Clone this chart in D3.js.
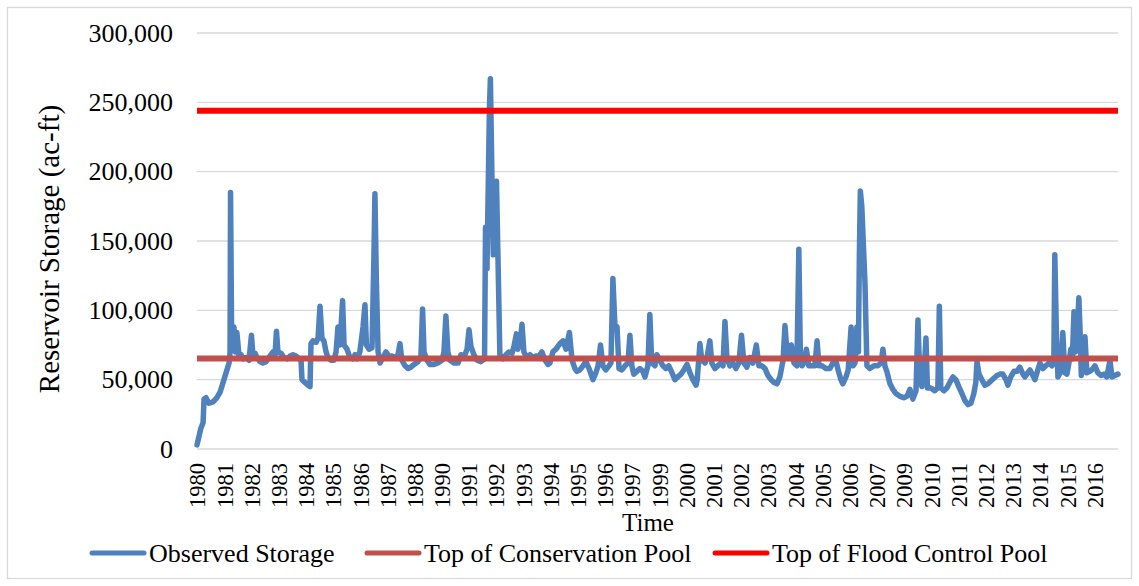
<!DOCTYPE html>
<html>
<head>
<meta charset="utf-8">
<script src="https://cdn.jsdelivr.net/npm/d3@7"></script>
<style>
  body { margin: 0; background: #fff; }
  text { font-family: "Liberation Serif", "Times New Roman", serif; fill: #000; }
</style>
</head>
<body>
<div id="chart"></div>
<script>
// Observed storage, [decimal year, ac-ft]
const observedStorage = [
  [1980.00, 3000], [1980.08, 9000], [1980.16, 15000], [1980.25, 19000], [1980.29, 36000], [1980.37, 37000],
  [1980.49, 33000], [1980.66, 34000], [1980.82, 37000], [1980.95, 41000], [1981.11, 50000], [1981.23, 57000],
  [1981.32, 62000], [1981.36, 70000], [1981.38, 185000], [1981.42, 90000], [1981.46, 72000], [1981.52, 88000],
  [1981.58, 70000], [1981.64, 84000], [1981.73, 67000], [1981.81, 68000], [1981.89, 65000], [1982.02, 66000],
  [1982.14, 64000], [1982.24, 82000], [1982.30, 68000], [1982.39, 69000], [1982.47, 66000], [1982.59, 63000],
  [1982.71, 62000], [1982.84, 63000], [1983.00, 67000], [1983.13, 70000], [1983.21, 68000], [1983.27, 85000],
  [1983.33, 70000], [1983.46, 69000], [1983.58, 66000], [1983.70, 65000], [1983.83, 67000], [1983.95, 68000],
  [1984.07, 67000], [1984.20, 65000], [1984.28, 64000], [1984.32, 50000], [1984.44, 48000], [1984.57, 46000],
  [1984.65, 45000], [1984.69, 76000], [1984.77, 78000], [1984.90, 77000], [1984.98, 80000], [1985.06, 103000],
  [1985.14, 80000], [1985.22, 78000], [1985.31, 70000], [1985.39, 66000], [1985.51, 64000], [1985.63, 64000],
  [1985.72, 70000], [1985.80, 88000], [1985.88, 75000], [1985.99, 107000], [1986.05, 75000], [1986.17, 72000],
  [1986.29, 66000], [1986.42, 65000], [1986.50, 68000], [1986.58, 65000], [1986.70, 70000], [1986.83, 88000],
  [1986.91, 104000], [1986.97, 75000], [1987.08, 72000], [1987.20, 73000], [1987.28, 140000], [1987.32, 184000],
  [1987.38, 120000], [1987.45, 70000], [1987.53, 62000], [1987.65, 66000], [1987.77, 70000], [1987.90, 67000],
  [1988.02, 67000], [1988.14, 66000], [1988.27, 68000], [1988.35, 76000], [1988.43, 64000], [1988.56, 60000],
  [1988.68, 58000], [1988.80, 59000], [1988.93, 61000], [1989.09, 63000], [1989.21, 66000], [1989.28, 101000],
  [1989.34, 70000], [1989.46, 64000], [1989.58, 61000], [1989.75, 61000], [1989.91, 62000], [1990.08, 64000],
  [1990.16, 70000], [1990.24, 96000], [1990.32, 70000], [1990.41, 64000], [1990.57, 62000], [1990.74, 62000],
  [1990.86, 68000], [1990.98, 66000], [1991.11, 72000], [1991.19, 86000], [1991.27, 74000], [1991.39, 68000],
  [1991.52, 64000], [1991.68, 63000], [1991.83, 65000], [1991.87, 160000], [1991.93, 130000], [1992.03, 245000],
  [1992.07, 267000], [1992.13, 200000], [1992.19, 140000], [1992.26, 150000], [1992.32, 193000], [1992.38, 140000],
  [1992.46, 68000], [1992.59, 65000], [1992.71, 68000], [1992.83, 70000], [1992.96, 69000], [1993.04, 74000],
  [1993.14, 83000], [1993.20, 72000], [1993.29, 76000], [1993.37, 90000], [1993.45, 70000], [1993.57, 66000],
  [1993.70, 68000], [1993.82, 66000], [1993.94, 67000], [1994.07, 67000], [1994.19, 70000], [1994.32, 64000],
  [1994.44, 61000], [1994.52, 62000], [1994.64, 70000], [1994.77, 72000], [1994.93, 76000], [1995.06, 78000],
  [1995.18, 72000], [1995.32, 84000], [1995.43, 64000], [1995.55, 58000], [1995.63, 56000], [1995.75, 57000],
  [1995.88, 60000], [1996.00, 63000], [1996.13, 58000], [1996.29, 50000], [1996.41, 55000], [1996.50, 60000],
  [1996.60, 75000], [1996.70, 60000], [1996.82, 57000], [1996.95, 60000], [1997.03, 62000], [1997.11, 123000],
  [1997.19, 90000], [1997.28, 88000], [1997.36, 58000], [1997.48, 57000], [1997.61, 60000], [1997.73, 62000],
  [1997.81, 82000], [1997.89, 60000], [1997.97, 54000], [1998.10, 56000], [1998.22, 58000], [1998.34, 56000],
  [1998.43, 52000], [1998.55, 60000], [1998.63, 97000], [1998.71, 62000], [1998.84, 60000], [1998.92, 68000],
  [1999.04, 64000], [1999.17, 60000], [1999.29, 58000], [1999.41, 60000], [1999.54, 55000], [1999.66, 50000],
  [1999.78, 52000], [1999.91, 54000], [2000.03, 57000], [2000.16, 61000], [2000.28, 55000], [2000.40, 50000],
  [2000.53, 46000], [2000.58, 50000], [2000.69, 76000], [2000.77, 64000], [2000.90, 62000], [2000.98, 66000],
  [2001.10, 78000], [2001.18, 62000], [2001.31, 58000], [2001.43, 60000], [2001.55, 62000], [2001.64, 60000],
  [2001.72, 92000], [2001.80, 66000], [2001.92, 60000], [2002.05, 62000], [2002.17, 58000], [2002.29, 62000],
  [2002.40, 82000], [2002.50, 62000], [2002.62, 59000], [2002.74, 66000], [2002.87, 62000], [2003.01, 75000],
  [2003.12, 60000], [2003.24, 60000], [2003.37, 58000], [2003.49, 53000], [2003.62, 50000], [2003.74, 48000],
  [2003.86, 47000], [2003.98, 52000], [2004.11, 64000], [2004.19, 89000], [2004.27, 70000], [2004.35, 66000],
  [2004.45, 75000], [2004.56, 62000], [2004.68, 60000], [2004.76, 144000], [2004.82, 70000], [2004.89, 60000],
  [2004.97, 62000], [2005.07, 72000], [2005.17, 60000], [2005.30, 60000], [2005.42, 60000], [2005.51, 78000],
  [2005.59, 60000], [2005.71, 60000], [2005.87, 58000], [2006.04, 58000], [2006.16, 62000], [2006.28, 64000],
  [2006.39, 56000], [2006.49, 50000], [2006.57, 47000], [2006.70, 52000], [2006.79, 57000], [2006.91, 88000],
  [2006.99, 60000], [2007.07, 62000], [2007.15, 88000], [2007.21, 70000], [2007.25, 140000], [2007.29, 186000],
  [2007.35, 175000], [2007.48, 120000], [2007.56, 60000], [2007.68, 58000], [2007.85, 60000], [2008.01, 60000],
  [2008.14, 62000], [2008.22, 72000], [2008.30, 60000], [2008.38, 56000], [2008.51, 47000], [2008.63, 43000],
  [2008.75, 40000], [2008.92, 38000], [2009.08, 37000], [2009.21, 38000], [2009.33, 43000], [2009.45, 36000],
  [2009.58, 42000], [2009.66, 93000], [2009.73, 55000], [2009.82, 45000], [2009.90, 52000], [2009.99, 80000],
  [2010.05, 44000], [2010.19, 44000], [2010.35, 42000], [2010.48, 44000], [2010.54, 103000], [2010.60, 44000],
  [2010.73, 42000], [2010.85, 44000], [2010.97, 48000], [2011.10, 52000], [2011.22, 50000], [2011.34, 45000],
  [2011.47, 40000], [2011.59, 35000], [2011.72, 32000], [2011.84, 33000], [2011.96, 40000], [2012.04, 48000],
  [2012.09, 63000], [2012.17, 54000], [2012.29, 50000], [2012.41, 46000], [2012.54, 47000], [2012.66, 49000],
  [2012.78, 51000], [2012.91, 53000], [2013.03, 54000], [2013.15, 54000], [2013.28, 50000], [2013.36, 46000],
  [2013.48, 52000], [2013.61, 56000], [2013.73, 56000], [2013.85, 59000], [2013.98, 54000], [2014.06, 52000],
  [2014.18, 55000], [2014.27, 57000], [2014.39, 53000], [2014.47, 50000], [2014.59, 57000], [2014.68, 62000],
  [2014.80, 58000], [2014.92, 60000], [2015.05, 62000], [2015.17, 60000], [2015.25, 62000], [2015.29, 140000],
  [2015.36, 80000], [2015.42, 52000], [2015.54, 56000], [2015.62, 84000], [2015.70, 55000], [2015.79, 54000],
  [2015.87, 62000], [2015.95, 72000], [2016.01, 65000], [2016.08, 99000], [2016.14, 70000], [2016.20, 80000],
  [2016.28, 109000], [2016.34, 80000], [2016.38, 53000], [2016.45, 60000], [2016.53, 81000], [2016.61, 55000],
  [2016.73, 56000], [2016.86, 58000], [2016.94, 60000], [2017.06, 55000], [2017.19, 53000], [2017.31, 54000],
  [2017.43, 52000], [2017.56, 64000], [2017.64, 52000], [2017.76, 53000], [2017.89, 54000]
];

const conservationPool = 65300;   // ac-ft
const floodControlPool = 244000;  // ac-ft

// x-axis labels sit every ~408.6 days, so some years never get one
const tickLabels = ["1980", "1981", "1982", "1983", "1984", "1985", "1986", "1987", "1988", "1990",
  "1991", "1992", "1993", "1994", "1995", "1996", "1997", "1999", "2000", "2001", "2002", "2003",
  "2004", "2005", "2006", "2007", "2009", "2010", "2011", "2012", "2013", "2014", "2015", "2016"];
const tickStep = 1.1187; // years
const yTicks = [0, 50000, 100000, 150000, 200000, 250000, 300000];
const legendNames = ["Observed Storage", "Top of Conservation Pool", "Top of Flood Control Pool"];
const colors = ["#4f81bd", "#c0504d", "#ff0000"];

const W = 1139, H = 586;
const margin = { top: 33, right: 21, bottom: 137, left: 197 };
const width = W - margin.left - margin.right;
const height = H - margin.top - margin.bottom;

const root = d3.select("#chart").append("svg")
  .attr("width", W)
  .attr("height", H);

// outer chart border
root.append("rect")
  .attr("x", 7.5).attr("y", 7.5)
  .attr("width", W - 15).attr("height", H - 15)
  .attr("fill", "#fff")
  .attr("stroke", "#d9d9d9")
  .attr("stroke-width", 1.3);

const svg = root.append("g")
  .attr("transform", `translate(${margin.left},${margin.top})`);

const x = d3.scaleLinear()
  .domain([observedStorage[0][0], observedStorage[observedStorage.length - 1][0]])
  .range([0, width]);
const y = d3.scaleLinear().domain([0, 300000]).range([height, 0]);

// gridlines
svg.append("g")
  .selectAll("line")
  .data(yTicks)
  .join("line")
  .attr("x1", 0).attr("x2", width)
  .attr("y1", d => y(d)).attr("y2", d => y(d))
  .attr("stroke", "#d9d9d9")
  .attr("stroke-width", 1.4);

// y axis labels
const yAxis = svg.append("g")
  .call(d3.axisLeft(y).tickValues(yTicks).tickFormat(d3.format(",")).tickSize(0).tickPadding(24));
yAxis.select(".domain").remove();
yAxis.selectAll("text")
  .attr("font-family", "Liberation Serif, serif")
  .attr("font-size", "26px")
  .attr("fill", "#000");

// x axis labels (rotated)
const xTickVals = tickLabels.map((d, i) => x.domain()[0] + i * tickStep);
const xAxis = svg.append("g")
  .attr("transform", `translate(0,${height})`)
  .call(d3.axisBottom(x).tickValues(xTickVals).tickFormat((d, i) => tickLabels[i]).tickSize(0).tickPadding(0));
xAxis.select(".domain").remove();
xAxis.selectAll("text")
  .attr("font-family", "Liberation Serif, serif")
  .attr("font-size", "22.5px")
  .attr("fill", "#000")
  .attr("text-anchor", "end")
  .attr("transform", "translate(0,14) rotate(-90)")
  .attr("x", 0)
  .attr("y", 0)
  .attr("dy", "0.35em");

// series
const line = d3.line()
  .x(d => x(d[0]))
  .y(d => y(d[1]));

svg.append("path")
  .datum(observedStorage)
  .attr("fill", "none")
  .attr("stroke", colors[0])
  .attr("stroke-width", 5.5)
  .attr("stroke-linejoin", "round")
  .attr("stroke-linecap", "round")
  .attr("d", line);

const span = x.domain();
[conservationPool, floodControlPool].forEach((v, i) => {
  svg.append("path")
    .datum(span.map(t => [t, v]))
    .attr("fill", "none")
    .attr("stroke", colors[i + 1])
    .attr("stroke-width", 6)
    .attr("d", line);
});

// axis titles
root.append("text")
  .attr("x", 648)
  .attr("y", 531)
  .attr("text-anchor", "middle")
  .attr("font-size", "25px")
  .text("Time");

root.append("text")
  .attr("transform", "translate(59,249) rotate(-90)")
  .attr("text-anchor", "middle")
  .attr("font-size", "29px")
  .text("Reservoir Storage (ac-ft)");

// legend
const legendX = [92, 367, 715];
const legend = root.append("g");
legendNames.forEach((name, i) => {
  legend.append("line")
    .attr("x1", legendX[i]).attr("x2", legendX[i] + 52)
    .attr("y1", 553).attr("y2", 553)
    .attr("stroke", colors[i])
    .attr("stroke-width", 5)
    .attr("stroke-linecap", "round");
  legend.append("text")
    .attr("x", legendX[i] + 57)
    .attr("y", 562)
    .attr("font-size", "26px")
    .text(name);
});
</script>
</body>
</html>
